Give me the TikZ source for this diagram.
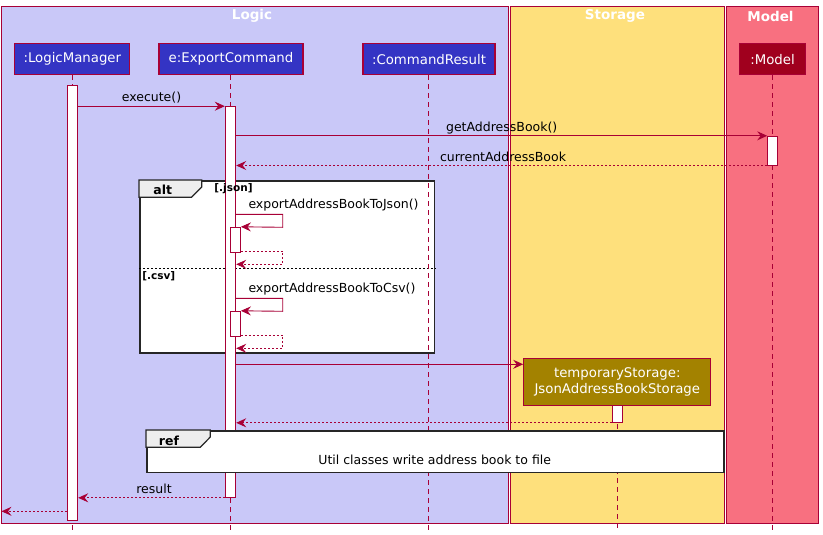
\documentclass[tikz,border=0pt]{standalone}
\usepackage{fontspec}
\setmainfont{DejaVu Sans}
\usetikzlibrary{arrows.meta}
\definecolor{bordc}{HTML}{A80036}
\definecolor{logicbg}{HTML}{C9C8F8}
\definecolor{storagebg}{HTML}{FEE07C}
\definecolor{modelbg}{HTML}{F87080}
\definecolor{logicpart}{HTML}{3434C4}
\definecolor{modelpart}{HTML}{A0001E}
\definecolor{storagepart}{HTML}{A38200}
\definecolor{tabgray}{HTML}{EEEEEE}
\tikzset{
  grp/.style={draw=bordc, line width=1pt, anchor=north west, inner sep=0pt, outer sep=0pt, minimum height=516.8pt},
  grptitle/.style={text=white, font=\fontsize{13.5}{16}\selectfont\bfseries, inner sep=0pt},
  part/.style={draw=bordc, line width=1.2pt, text=white, font=\fontsize{13.3}{16}\selectfont, inner sep=0pt, minimum height=31pt, align=center},
  life/.style={draw=bordc, dash pattern=on 5pt off 4pt, line width=0.8pt},
  act/.style={draw=bordc, fill=white, line width=1pt, inner sep=0pt, minimum width=10.4pt},
  msg/.style={draw=bordc, line width=0.9pt, -{Stealth[length=10pt,width=9pt,inset=3.5pt]}},
  ret/.style={msg, dash pattern=on 2pt off 2pt},
  lbl/.style={font=\fontsize{12.5}{15}\selectfont, inner sep=0pt},
  framebox/.style={draw=black!85, line width=1.5pt, fill=white, anchor=north west, inner sep=0pt},
  tabshape/.style={draw=black!85, line width=1.2pt, fill=tabgray},
  tablbl/.style={font=\fontsize{12.5}{15}\selectfont\bfseries, inner sep=0pt},
  guard/.style={font=\fontsize{10.5}{12}\selectfont\bfseries, inner sep=0pt}
}
\begin{document}
\begin{tikzpicture}[x=1pt,y=-1pt]
\useasboundingbox (0,0) rectangle (823,535);
\fill[white] (0,0) rectangle (823,535);
% groups
\node[grp, fill=logicbg, minimum width=507.2pt] (gLogic) at (1.5,6.5) {};
\node[grp, fill=storagebg, minimum width=214pt] (gStorage) at (510.3,6.5) {};
\node[grp, fill=modelbg, minimum width=92pt] (gModel) at (726.3,6.5) {};
\node[grptitle] (tLogic) at (252,16) {Logic};
\node[grptitle] (tStorage) at (615,16) {Storage};
\node[grptitle] (tModel) at (770.5,16) {Model};
% alt frame
\node[framebox, minimum width=294.7pt, minimum height=172pt] (altF) at (139,180) {};
\draw[tabshape] (139,180) -- (201.7,180) -- (201.7,187) -- (191.5,197.3) -- (139,197.3) -- cycle;
\node[tablbl] (altL) at (162.7,189.5) {alt};
\draw[black, dash pattern=on 2pt off 2pt, line width=0.8pt] (altF.west |- 0,268.3) -- (altF.east |- 0,268.3);
% participants
\node[part, fill=logicpart, minimum width=115pt] (LM) at (72.3,59.2) {:LogicManager};
\node[part, fill=logicpart, minimum width=144pt] (EC) at (231,59.2) {e:ExportCommand};
\node[part, fill=logicpart, minimum width=132pt] (CR) at (429,59.2) {:CommandResult};
\node[part, fill=modelpart, minimum width=65.5pt] (M) at (772.5,59.2) {:Model};
\node[part, fill=storagepart, minimum width=187pt, minimum height=47.5pt, font=\fontsize{13.3}{16}\selectfont] (TS) at (617.3,382) {temporaryStorage:\\JsonAddressBookStorage};
% lifelines
\coordinate (endLM) at (72.3,530);
\coordinate (endEC) at (230,530);
\coordinate (endCR) at (428.3,530);
\coordinate (endM) at (772.3,530);
\coordinate (endTS) at (617.3,530);
\draw[life] (LM.south) -- (endLM);
\draw[life] (EC.south -| endEC) -- (endEC);
\draw[life] (CR.south -| endCR) -- (endCR);
\draw[life] (M.south -| endM) -- (endM);
\draw[life] (TS.south) -- (endTS);
% activations
\node[act, minimum height=434pt] (aLM) at (72.5,303) {};
\node[act, minimum height=390.6pt] (aEC) at (230.5,302) {};
\node[act, minimum height=28.7pt, minimum width=9.6pt] (aM) at (772.5,150.65) {};
\node[act, minimum height=25pt] (aJ) at (235.2,239.8) {};
\node[act, minimum height=25pt] (aC) at (235.2,323.8) {};
\node[act, minimum height=16.6pt, minimum width=10pt] (aTS) at (617.3,414) {};
% guards (drawn over bars)
\node[guard] (gJson) at (233.5,188.5) {[.json]};
\node[guard] (gCsv) at (158.8,276) {[.csv]};
% messages
\draw[msg] (aLM.east |- aEC.north) -- (aEC.north west);
\node[lbl] (lExec) at (151.5,98) {execute()};
\draw[msg] (aEC.east |- aM.north) -- (aM.north west);
\node[lbl] (lGet) at (501.7,127.7) {getAddressBook()};
\draw[ret] (aM.south west) -- (aEC.east |- aM.south);
\node[lbl] (lCur) at (503,156.5) {currentAddressBook};
% self call json
\draw[msg] (aEC.east |- 0,214.3) -- (282.7,214.3) -- (282.7,227.3) -- (aJ.north east);
\node[lbl, anchor=west] (lJson) at (248.3,205) {exportAddressBookToJson()};
\draw[ret] (aJ.east |- 0,251) -- (282.7,251) -- (282.7,264.3) -- (aEC.east |- 0,264.3);
% self call csv
\draw[msg] (aEC.east |- 0,298.3) -- (282.7,298.3) -- (282.7,311.3) -- (aC.north east);
\node[lbl, anchor=west] (lCsv) at (248.3,289.3) {exportAddressBookToCsv()};
\draw[ret] (aC.east |- 0,335) -- (282.7,335) -- (282.7,348.3) -- (aEC.east |- 0,348.3);
% create
\draw[msg] (aEC.east |- 0,364.3) -- (TS.west |- 0,364.3);
\draw[ret] (aTS.south west) -- (aEC.east |- aTS.south);
% ref frame
\node[framebox, minimum width=577.3pt, minimum height=41.7pt] (refF) at (146,430) {};
\draw[tabshape] (146,430) -- (210.3,430) -- (210.3,437) -- (200.3,447.3) -- (146,447.3) -- cycle;
\node[tablbl] (refL) at (169,440.5) {ref};
\node[lbl] (refT) at (434.7,459.5) {Util classes write address book to file};
% result
\draw[ret] (aEC.south west) -- (aLM.east |- aEC.south);
\node[lbl] (lRes) at (154,488.7) {result};
\coordinate (exitpt) at (1.5,511.3);
\draw[ret] (aLM.west |- exitpt) -- (exitpt);
\end{tikzpicture}
\end{document}
